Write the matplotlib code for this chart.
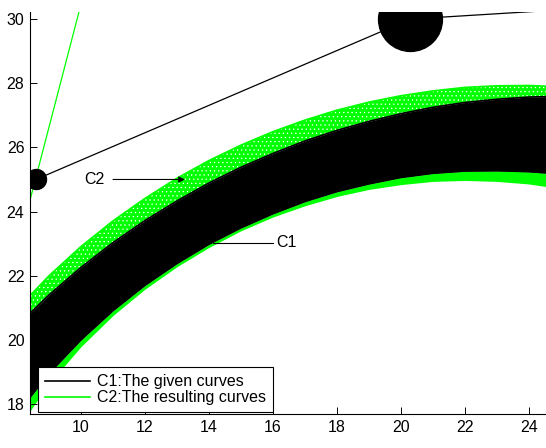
import numpy as np
import matplotlib
matplotlib.use("Agg")
import matplotlib.pyplot as plt

plt.rcParams['font.family'] = ['Liberation Sans', 'DejaVu Sans']
plt.rcParams['hatch.linewidth'] = 0.4

# edges of the curve bands at x = 8 .. 25
x_edge = np.arange(8, 26)
black_bottom = [17.70, 18.95, 20.00, 20.91, 21.70, 22.38, 22.98, 23.49, 23.93,
                24.31, 24.62, 24.86, 25.06, 25.19, 25.26, 25.27, 25.24, 25.17]
black_top = [20.44, 21.40, 22.26, 23.03, 23.72, 24.33, 24.89, 25.38, 25.81,
             26.20, 26.53, 26.81, 27.05, 27.25, 27.40, 27.50, 27.57, 27.59]
green_top = [20.96, 22.00, 22.91, 23.71, 24.41, 25.04, 25.59, 26.07, 26.49,
             26.85, 27.16, 27.41, 27.61, 27.76, 27.87, 27.92, 27.93, 27.89]
green_bottom = [17.21, 18.63, 19.79, 20.76, 21.58, 22.28, 22.88, 23.40, 23.83,
                24.18, 24.47, 24.69, 24.84, 24.94, 24.97, 24.94, 24.86, 24.71]

# control polygon (black) and the green direction line
poly_x = [8.59, 20.3, 26.0]
poly_y = [25.0, 30.0, 30.35]
dir_x = [8.2, 10.1]
dir_y = [23.57, 30.85]

labels = ['C1:The given curves', 'C2:The resulting curves']
xticks = [10, 12, 14, 16, 18, 20, 22, 24]
yticks = [18, 20, 22, 24, 26, 28, 30]

lime = (0, 1, 0)
fs = 11.5

fig = plt.figure(figsize=(5.46, 4.48), dpi=100)
ax = fig.add_axes([30 / 546, 33.7 / 448, 516 / 546, 402.6 / 448])

ax.fill_between(x_edge, green_bottom, black_bottom, color=lime, lw=0)
ax.fill_between(x_edge, black_top, green_top, facecolor=lime, edgecolor='white',
                hatch='....', lw=0)
ax.fill_between(x_edge, black_bottom, black_top, color='black', lw=0)
ax.plot(x_edge, black_top, color='black', lw=1.2, label=labels[0])
ax.plot(x_edge, black_bottom, color='black', lw=1.0)
ax.plot(x_edge, green_top, color=lime, lw=1.2, label=labels[1])

ax.plot(dir_x, dir_y, color=lime, lw=0.9)
ax.plot(poly_x, poly_y, color='black', lw=0.9)
ax.plot(poly_x[0], poly_y[0], 'o', color='black', ms=14.4)
ax.plot(poly_x[1], poly_y[1], 'o', color='black', ms=46)

# curve labels
ax.annotate('', xy=(13.25, 25.0), xytext=(11.0, 25.0),
            arrowprops=dict(arrowstyle='-|>', color='black', lw=0.8,
                            mutation_scale=9, shrinkA=0, shrinkB=0))
ax.text(10.75, 25.0, 'C2', ha='right', va='center', fontsize=fs)
ax.plot([14.14, 15.99], [23.03, 23.03], color='black', lw=0.8)
ax.text(16.12, 23.03, 'C1', ha='left', va='center', fontsize=fs)

ax.set_xlim(8.405, 24.54)
ax.set_ylim(17.68, 30.23)
ax.set_xticks(xticks)
ax.set_yticks(yticks)
ax.tick_params(direction='in', length=5, width=0.7, labelsize=fs, pad=4)
ax.spines['top'].set_visible(False)
ax.spines['right'].set_visible(False)
for s in ['left', 'bottom']:
    ax.spines[s].set_linewidth(0.8)

leg = ax.legend(loc='lower left', bbox_to_anchor=(0.015, 0.005), borderaxespad=0,
                fontsize=fs, fancybox=False, framealpha=1, edgecolor='black',
                handlelength=2.8, handletextpad=0.45, borderpad=0.45,
                labelspacing=0.05)
leg.get_frame().set_linewidth(0.8)

fig.savefig('out.png', dpi=100)
